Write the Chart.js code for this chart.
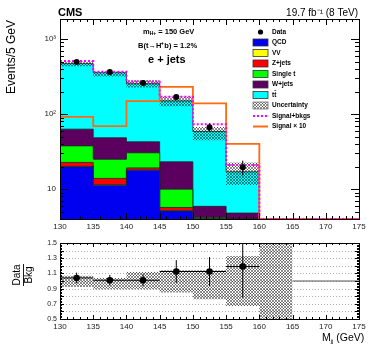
<!DOCTYPE html>
<html>
<head>
<meta charset="utf-8">
<script src="https://cdn.jsdelivr.net/npm/chart.js@4.4.0/dist/chart.umd.min.js"></script>
<style>
  body { margin: 0; background: #fff; }
  #wrap { position: relative; width: 374px; height: 359px; }
  canvas { position: absolute; left: 0; }
</style>
</head>
<body>
<div id="wrap">
  <canvas id="main" width="374" height="235" style="top:0"></canvas>
  <canvas id="ratio" width="374" height="124" style="top:235px"></canvas>
</div>
<script>
// bin edges (GeV) and tick labels
const binEdges = [130, 135, 140, 145, 150, 155, 160, 165, 170, 175];
const xTicks = [130, 135, 140, 145, 150, 155, 160, 165, 170, 175];
const yMainTicks = [10, 100, 1000];
const yMainLabels = ['10', '10²', '10³'];
const yRatioTicks = [0.5, 0.6, 0.7, 0.8, 0.9, 1, 1.1, 1.2, 1.3, 1.4, 1.5];
const yRatioLabels = ['0.5', '0.6', '0.7', '0.8', '0.9', '1', '1.1', '1.2', '1.3', '1.4', '1.5'];

// data (events / 5 GeV)
const dataCounts = [494, 363, 259, 169, 67, 19.6];
const dataErrors = [22, 19, 16, 13, 8, 4.4];

// background stack, bottom to top
const qcd     = [19.8, 11.3, 17.9, 5.1, 1.5, 0.5, 0, 0, 0];
const vv      = [0.3, 0.2, 0.2, 0.1, 0.1, 0, 0, 0, 0];
const zJets   = [2.6, 2.4, 1.1, 0.5, 0.2, 0, 0, 0, 0];
const singleT = [15.0, 11.1, 11.3, 4.3, 2.4, 1.0, 0, 0, 0];
const wJets   = [25.3, 23.3, 12.2, 13.1, 1.7, 3.3, 0, 0, 0];
const ttbar   = [407, 308, 211, 127, 53, 12.2, 0, 0, 0];

const sigPlusBkg = [508, 366, 270, 170, 73, 21, 0, 0, 0];
const signalX10  = [92, 69, 149, 231, 139, 40, 0, 0, 0];

// relative uncertainty band (per bin, last one = empty bkg bin)
const uncLo = [0.92, 0.89, 0.89, 0.85, 0.76, 0.67, 0.5];
const uncHi = [1.07, 1.04, 1.12, 1.14, 1.14, 1.33, 1.5];

// data / bkg
const ratioVals = [1.04, 1.01, 1.01, 1.125, 1.125, 1.19];
const ratioErrs = [0.07, 0.07, 0.08, 0.15, 0.19, 0.41];
const ratioEmpty = [1, 1]; // 165-175, no bkg

const Y_MIN = 4, Y_MAX = 1850;
const FONT = '"Liberation Sans", Arial, sans-serif';

const stackNames  = ['QCD', 'VV', 'Z+jets', 'Single t', 'W+jets', 'tt\u0304'];
const stackColors = ['#0000f0', '#ffff00', '#ff0000', '#00ff00', '#5c0060', '#00ffff'];
const layers = [qcd, vv, zJets, singleT, wJets, ttbar];

// histogram outline points for stepped lines
function steps(vals, start = 0, floor = null) {
  const pts = vals.map((v, i) => ({ x: binEdges[start + i], y: floor === null ? v : Math.max(v, floor) }));
  pts.push({ x: binEdges[start + vals.length], y: pts[pts.length - 1].y });
  return pts;
}

// cumulative stack
const cum = [];
let run = qcd.map(() => 0);
layers.forEach(l => { run = run.map((s, i) => s + l[i]); cum.push(run); });
const total = cum[cum.length - 1];
const bandLoMain = total.map((t, i) => t * (uncLo[i] || 0));
const bandHiMain = total.map((t, i) => t * (uncHi[i] || 0));

// crosshatch pattern
function makeHatch() {
  const c = document.createElement('canvas');
  c.width = 3; c.height = 3;
  const g = c.getContext('2d');
  g.strokeStyle = 'rgba(0,0,0,0.75)';
  g.lineWidth = 0.6;
  g.beginPath();
  g.moveTo(0, 0); g.lineTo(3, 3);
  g.moveTo(0, 3); g.lineTo(3, 0);
  g.stroke();
  return g.createPattern(c, 'repeat');
}
const hatch = makeHatch();

const errorBars = {
  id: 'errorBars',
  beforeDatasetDraw(chart, args, opts) {
    if (args.index !== 0) return;
    const { ctx, chartArea: a, scales: { x, y } } = chart;
    ctx.save();
    ctx.beginPath(); ctx.rect(a.left, a.top, a.right - a.left, a.bottom - a.top); ctx.clip();
    ctx.strokeStyle = '#000'; ctx.lineWidth = 1;
    ctx.beginPath();
    opts.vals.forEach((v, i) => {
      const cx = x.getPixelForValue(binEdges[i] + 2.5);
      ctx.moveTo(cx, y.getPixelForValue(v - opts.errs[i]));
      ctx.lineTo(cx, y.getPixelForValue(v + opts.errs[i]));
      if (opts.xerr) {
        const cy = y.getPixelForValue(v);
        ctx.moveTo(x.getPixelForValue(binEdges[i]), cy);
        ctx.lineTo(x.getPixelForValue(binEdges[i + 1]), cy);
      }
    });
    ctx.stroke();
    ctx.restore();
  }
};

// ROOT style frame with inward ticks
const frame = {
  id: 'frame',
  afterDraw(chart, args, o) {
    const { ctx, chartArea: a, scales: { x, y } } = chart;
    ctx.save();
    ctx.strokeStyle = '#000'; ctx.lineWidth = 1;
    ctx.beginPath();
    for (let v = x.min; v <= x.max + 1e-6; v += o.xMinor) {
      const px = Math.round(x.getPixelForValue(v)) + 0.5;
      const major = Math.abs(v / o.xMajor - Math.round(v / o.xMajor)) < 1e-6;
      const len = major ? o.xMajLen : o.xMinLen;
      ctx.moveTo(px, a.bottom); ctx.lineTo(px, a.bottom - len);
      ctx.moveTo(px, a.top); ctx.lineTo(px, a.top + len);
    }
    const yt = (vals, len) => vals.forEach(v => {
      const py = Math.round(y.getPixelForValue(v)) + 0.5;
      ctx.moveTo(a.left, py); ctx.lineTo(a.left + len, py);
      ctx.moveTo(a.right, py); ctx.lineTo(a.right - len, py);
    });
    yt(o.yMajor, o.yMajLen);
    yt(o.yMinor, o.yMinLen);
    ctx.stroke();
    ctx.strokeRect(Math.round(a.left) + 0.5, Math.round(a.top) + 0.5, Math.round(a.right - a.left), Math.round(a.bottom - a.top));
    ctx.restore();
  }
};

function text(ctx, s, x, y, font, align = 'left') {
  ctx.font = font; ctx.fillStyle = '#000';
  ctx.textAlign = align; ctx.textBaseline = 'middle';
  ctx.fillText(s, x, y);
  return ctx.measureText(s).width;
}

// text turned 90 degrees, reading bottom to top
function vtext(ctx, s, x, y, font, align) {
  ctx.save();
  ctx.translate(x, y);
  ctx.rotate(-Math.PI / 2);
  text(ctx, s, 0, 0, font, align);
  ctx.restore();
}

const mainText = {
  id: 'mainText',
  afterDraw(chart) {
    const ctx = chart.ctx;
    ctx.save();
    text(ctx, 'CMS', 58, 13, 'bold 11px ' + FONT);
    text(ctx, '19.7 fb\u207B\u00B9 (8 TeV)', 358, 13, '10px ' + FONT, 'right');

    let w = text(ctx, 'm', 143, 32, 'bold 7.5px ' + FONT);
    w += text(ctx, 'H+', 143 + w, 34, 'bold 5px ' + FONT);
    text(ctx, ' = 150 GeV', 143 + w, 32, 'bold 7.5px ' + FONT);
    text(ctx, 'B(t\u2192H\u207Ab) = 1.2%', 138, 46, 'bold 7.5px ' + FONT);
    text(ctx, 'e + jets', 148, 60, 'bold 11px ' + FONT);

    vtext(ctx, 'Events/5 GeV', 12, 20, '12px ' + FONT, 'right');

    // legend
    const lx = 253, ly = 32, dy = 10.5, lf = 'bold 6.5px ' + FONT;
    ctx.fillStyle = '#000';
    ctx.beginPath(); ctx.arc(lx + 7.5, ly, 2.6, 0, Math.PI * 2); ctx.fill();
    text(ctx, 'Data', lx + 19, ly, lf);
    stackNames.forEach((n, i) => {
      const yy = ly + dy * (i + 1);
      ctx.fillStyle = stackColors[i];
      ctx.fillRect(lx, yy - 3.5, 15, 7);
      ctx.strokeStyle = '#333'; ctx.lineWidth = 0.8;
      ctx.strokeRect(lx, yy - 3.5, 15, 7);
      text(ctx, n, lx + 19, yy, lf);
    });
    let yy = ly + dy * 7;
    ctx.fillStyle = '#fff'; ctx.fillRect(lx, yy - 3.5, 15, 7);
    ctx.fillStyle = hatch; ctx.fillRect(lx, yy - 3.5, 15, 7);
    ctx.strokeStyle = '#777'; ctx.strokeRect(lx, yy - 3.5, 15, 7);
    text(ctx, 'Uncertainty', lx + 19, yy, lf);
    yy = ly + dy * 8;
    ctx.strokeStyle = '#ff00ff'; ctx.lineWidth = 2; ctx.setLineDash([2, 2]);
    ctx.beginPath(); ctx.moveTo(lx, yy); ctx.lineTo(lx + 15, yy); ctx.stroke();
    ctx.setLineDash([]);
    text(ctx, 'Signal+bkgs', lx + 19, yy, lf);
    yy = ly + dy * 9;
    ctx.strokeStyle = '#ff6a10';
    ctx.beginPath(); ctx.moveTo(lx, yy); ctx.lineTo(lx + 15, yy); ctx.stroke();
    text(ctx, 'Signal \u00D7 10', lx + 19, yy, lf);
    ctx.restore();
  }
};

const ratioText = {
  id: 'ratioText',
  beforeDatasetsDraw(chart) {
    // dotted grid
    const { ctx, chartArea: a, scales: { y } } = chart;
    ctx.save();
    ctx.strokeStyle = '#999'; ctx.lineWidth = 0.8; ctx.setLineDash([1, 2]);
    ctx.beginPath();
    yRatioTicks.slice(1, -1).forEach(v => {
      const py = Math.round(y.getPixelForValue(v)) + 0.5;
      ctx.moveTo(a.left, py); ctx.lineTo(a.right, py);
    });
    ctx.stroke();
    ctx.restore();
  },
  afterDraw(chart) {
    const ctx = chart.ctx;
    ctx.save();
    // Data / Bkg fraction, rotated
    vtext(ctx, 'Data', 17, 40, '10px ' + FONT, 'center');
    vtext(ctx, 'Bkg', 29, 40, '10px ' + FONT, 'center');
    ctx.strokeStyle = '#000'; ctx.lineWidth = 0.9;
    ctx.beginPath(); ctx.moveTo(23.5, 29); ctx.lineTo(23.5, 51); ctx.stroke();
    let w = text(ctx, 'M', 322, 103, '10.5px ' + FONT);
    w += text(ctx, 'jj', 322 + w, 106, '6px ' + FONT);
    text(ctx, ' (GeV)', 322 + w, 103, '10.5px ' + FONT);
    ctx.restore();
  }
};

const line = (data, color, width, dash) => ({
  data, stepped: true, fill: false, borderColor: color, borderWidth: width,
  borderDash: dash || [], pointRadius: 0
});

const mainDatasets = [
  { data: dataCounts.map((y, i) => ({ x: binEdges[i] + 2.5, y })), showLine: false,
    pointRadius: 3, pointBackgroundColor: '#000', pointBorderColor: '#000', pointBorderWidth: 0 },
  line(steps(sigPlusBkg, 0, Y_MIN), '#ff00ff', 2, [2, 2]),
  line(steps(signalX10, 0, Y_MIN), '#ff6a10', 1.8),
  { data: steps(bandHiMain, 0, Y_MIN), stepped: true, fill: '+1', backgroundColor: hatch,
    borderColor: 'rgba(0,0,0,0)', borderWidth: 1, pointRadius: 0 },
  { data: steps(bandLoMain, 0, Y_MIN), stepped: true, fill: false,
    borderColor: 'rgba(0,0,0,0)', borderWidth: 1, pointRadius: 0 }
];
// stack layers: top-most last in the list so it is painted first
for (let k = 0; k < layers.length; k++) {
  mainDatasets.push({
    data: steps(cum[k], 0, Y_MIN), stepped: true, fill: 'start',
    backgroundColor: stackColors[k], borderColor: '#222', borderWidth: 0.8, pointRadius: 0
  });
}

const tickFont = { family: FONT, size: 8 };

new Chart(document.getElementById('main'), {
  type: 'line',
  data: { datasets: mainDatasets },
  options: {
    responsive: false, animation: false, events: [],
    layout: { padding: { top: 19, right: 15, left: 0, bottom: 0 } },
    plugins: {
      legend: { display: false }, tooltip: { enabled: false },
      errorBars: { vals: dataCounts, errs: dataErrors, xerr: false },
      frame: {
        xMajor: 5, xMinor: 1, xMajLen: 6, xMinLen: 3,
        yMajor: yMainTicks, yMajLen: 8,
        yMinor: [4, 5, 6, 7, 8, 9, 20, 30, 40, 50, 60, 70, 80, 90, 200, 300, 400, 500, 600, 700, 800, 900], yMinLen: 4
      }
    },
    scales: {
      x: {
        type: 'linear', min: 130, max: 175,
        grid: { display: false, drawTicks: false }, border: { display: false },
        afterBuildTicks: s => { s.ticks = xTicks.map(v => ({ value: v })); },
        ticks: { padding: 3, font: tickFont, color: '#222', maxRotation: 0, autoSkip: false },
        afterFit: s => { s.height = 16; }
      },
      y: {
        type: 'logarithmic', min: Y_MIN, max: Y_MAX,
        grid: { display: false, drawTicks: false }, border: { display: false },
        afterBuildTicks: s => { s.ticks = yMainTicks.map(v => ({ value: v })); },
        ticks: { padding: 4, font: tickFont, color: '#222',
          callback: v => yMainLabels[yMainTicks.indexOf(v)] },
        afterFit: s => { s.width = 60; }
      }
    }
  },
  plugins: [errorBars, frame, mainText]
});

const ratioDatasets = [
  { data: ratioVals.map((y, i) => ({ x: binEdges[i] + 2.5, y })), showLine: false,
    pointRadius: 3.3, pointBackgroundColor: '#000', pointBorderColor: '#000', pointBorderWidth: 0 },
  line(steps(ratioEmpty, 7), '#555', 1),
  { data: steps(uncHi), stepped: true, fill: '+1', backgroundColor: hatch,
    borderColor: 'rgba(0,0,0,0)', borderWidth: 1, pointRadius: 0 },
  { data: steps(uncLo), stepped: true, fill: false,
    borderColor: 'rgba(0,0,0,0)', borderWidth: 1, pointRadius: 0 }
];

const ratioMinor = [];
for (let v = 50; v <= 150; v += 2) ratioMinor.push(v / 100);

new Chart(document.getElementById('ratio'), {
  type: 'line',
  data: { datasets: ratioDatasets },
  options: {
    responsive: false, animation: false, events: [],
    layout: { padding: { top: 8, right: 15, left: 0, bottom: 0 } },
    plugins: {
      legend: { display: false }, tooltip: { enabled: false },
      errorBars: { vals: ratioVals, errs: ratioErrs, xerr: true },
      frame: {
        xMajor: 5, xMinor: 1, xMajLen: 4, xMinLen: 2,
        yMajor: yRatioTicks, yMajLen: 4, yMinor: ratioMinor, yMinLen: 2
      }
    },
    scales: {
      x: {
        type: 'linear', min: 130, max: 175,
        grid: { display: false, drawTicks: false }, border: { display: false },
        afterBuildTicks: s => { s.ticks = xTicks.map(v => ({ value: v })); },
        ticks: { padding: 3, font: tickFont, color: '#222', maxRotation: 0, autoSkip: false },
        afterFit: s => { s.height = 40; }
      },
      y: {
        type: 'linear', min: 0.5, max: 1.5,
        grid: { display: false, drawTicks: false }, border: { display: false },
        afterBuildTicks: s => { s.ticks = yRatioTicks.map(v => ({ value: v })); },
        ticks: { padding: 3, font: { family: FONT, size: 7 }, color: '#222',
          callback: v => yRatioLabels[yRatioTicks.indexOf(v)] },
        afterFit: s => { s.width = 60; }
      }
    }
  },
  plugins: [errorBars, frame, ratioText]
});
</script>
</body>
</html>
